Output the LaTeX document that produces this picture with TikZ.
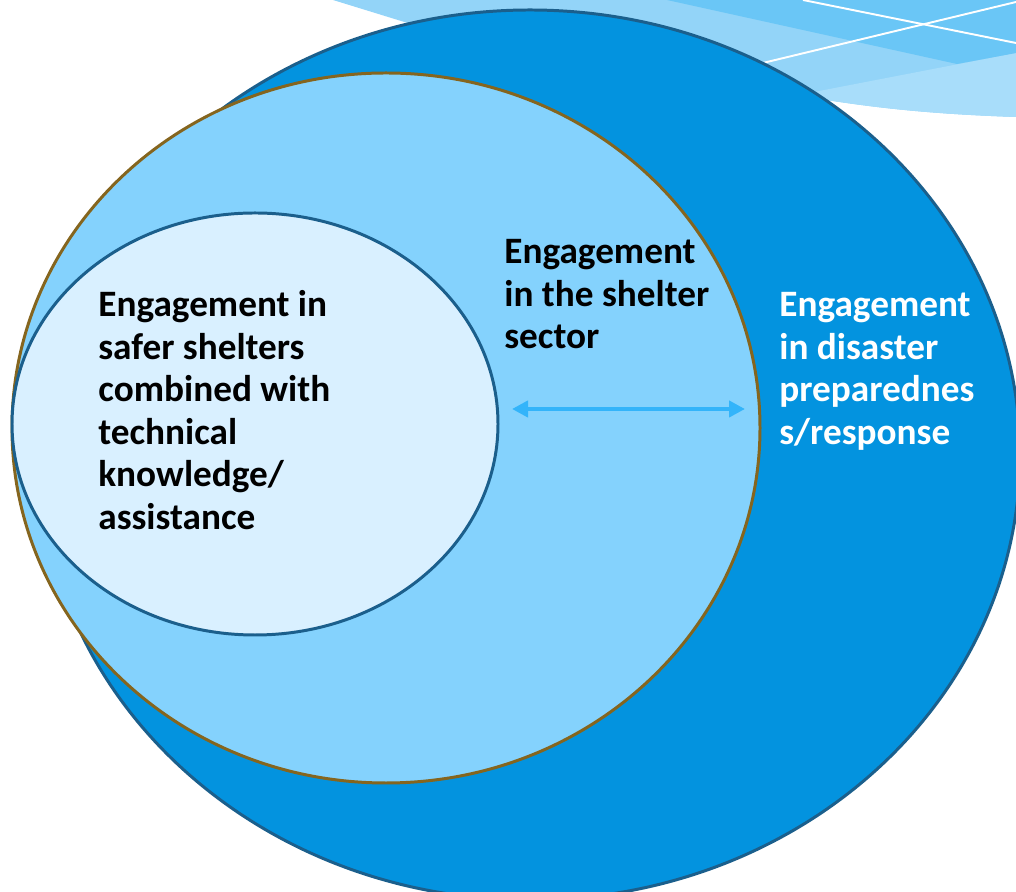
\documentclass[tikz,border=0pt]{standalone}
\usepackage{fontspec}
\setmainfont{Carlito}
\usetikzlibrary{shapes.geometric,arrows.meta}
\pgfdeclarelayer{bg}
\pgfsetlayers{bg,main}
\definecolor{outerfill}{RGB}{3,147,223}
\definecolor{outeredge}{RGB}{27,95,140}
\definecolor{midfill}{RGB}{132,210,253}
\definecolor{midedge}{RGB}{133,101,30}
\definecolor{innerfill}{RGB}{217,240,255}
\definecolor{spanblue}{RGB}{51,180,250}
\definecolor{wavelight}{RGB}{147,212,248}
\definecolor{wavepale}{RGB}{168,221,250}
\definecolor{wavedark}{RGB}{106,198,246}
\tikzset{
  ring/.style={ellipse, inner sep=0pt, line width=1.7pt},
  ringouter/.style={ring, draw=outeredge, fill=outerfill, minimum width=19.6cm, minimum height=17.8cm},
  ringmid/.style={ring, draw=midedge, fill=midfill, minimum width=14.96cm, minimum height=14.2cm},
  ringinner/.style={ring, draw=outeredge, fill=innerfill, minimum width=9.72cm, minimum height=8.44cm},
  ringlabel/.style={anchor=base west, inner sep=0pt, align=left, font=\bfseries\fontsize{21.2pt}{24.2pt}\selectfont},
  span/.style={{Triangle[length=0.32cm,width=0.32cm]}-{Triangle[length=0.32cm,width=0.32cm]}, line width=0.08cm, draw=spanblue},
}
\begin{document}
\begin{tikzpicture}
        \useasboundingbox (0cm, 0cm) rectangle (20.32cm, 17.84cm);
        \begin{pgfonlayer}{bg}
                % waves, top right
                \fill [wavelight] (6.66cm, 17.84cm) -- (20.32cm, 17.84cm) -- (20.32cm, 15.50cm)
                        .. controls (18.60cm, 15.56cm) and (17.40cm, 15.68cm) .. (15.80cm, 15.96cm)
                        -- (11.20cm, 16.44cm) -- cycle;
                \fill [wavepale] (14.00cm, 15.56cm) -- (20.32cm, 16.78cm) -- (20.32cm, 15.50cm)
                        .. controls (18.60cm, 15.56cm) and (17.40cm, 15.68cm) .. (15.80cm, 15.96cm) -- cycle;
                \fill [wavedark] (13.34cm, 17.84cm) -- (20.32cm, 17.84cm) -- (20.32cm, 16.78cm) -- (19.14cm, 16.56cm) -- cycle;
                \draw [white, line width=1.1pt] (16.06cm, 17.84cm) -- (20.32cm, 16.98cm);
                \draw [white, line width=1.1pt] (14.80cm, 16.47cm) -- (20.32cm, 17.80cm);
        \end{pgfonlayer}
        \node (r0) [ringouter] at (10.600000cm, 8.740000cm) {};
        \node (r1) [ringmid] at (7.720000cm, 9.280000cm) {};
        \node (r2) [ringinner] at (5.100000cm, 9.360000cm) {};
        \node (t2) [ringlabel] at (1.960000cm, 7.250000cm) {Engagement in\\safer shelters\\combined with\\technical\\knowledge/\\assistance};
        \node (t1) [ringlabel] at (10.080000cm, 10.860000cm) {Engagement\\in the shelter\\sector};
        \node (t0) [ringlabel, text=white] at (15.580000cm, 8.950000cm) {Engagement\\in disaster\\preparednes\\s/response};
        \coordinate (a0) at (10.240000cm, 9.660000cm);
        \coordinate (a1) at (14.900000cm, 9.660000cm);
        \draw [span] (a0) -- (a1);
\end{tikzpicture}
\end{document}
